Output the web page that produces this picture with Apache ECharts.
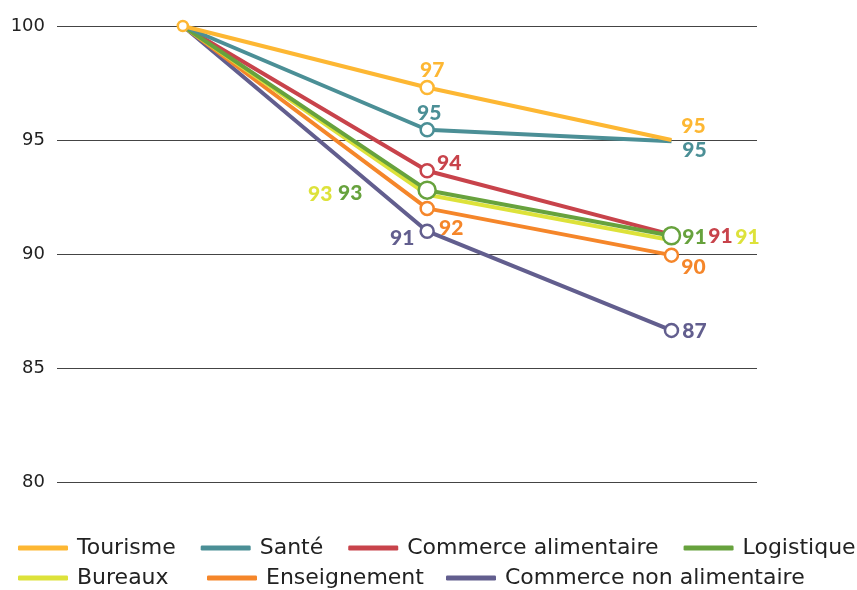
<!DOCTYPE html>
<html>
<head>
<meta charset="utf-8">
<script src="https://cdn.jsdelivr.net/npm/echarts@6/dist/echarts.min.js"></script>
<style>html,body{margin:0;padding:0;background:#fff}#c{width:857px;height:590px}</style>
</head>
<body>
<div id="c"></div>
<script>
// ---- data ----
const xIndex = [0, 1, 2];
const yTicks = [80, 85, 90, 95, 100];
const seriesNames = ['Tourisme', 'Santé', 'Commerce alimentaire', 'Logistique', 'Bureaux', 'Enseignement', 'Commerce non alimentaire'];
const tourisme = [100, 97.3, 95.0];
const sante = [100, 95.45, 94.95];
const commerceAlim = [100, 93.65, 90.85];
const logistique = [100, 92.8, 90.8];
const bureaux = [100, 92.6, 90.6];
const enseignement = [100, 92.0, 89.95];
const commerceNonAlim = [100, 91.0, 86.65];

// ---- styles ----
const colors = ['#FDB733', '#4B8F96', '#C8434B', '#67A23D', '#DDE23A', '#F5862A', '#625E8E'];
const allValues = [tourisme, sante, commerceAlim, logistique, bureaux, enseignement, commerceNonAlim];
// symbol sizes per point (0 = invisible)
const symbolSizes = [
  [10, 13, 0],
  [0, 13, 0],
  [0, 13, 13],
  [0, 17, 17],
  [0, 0, 0],
  [0, 13, 13],
  [0, 13, 13]
];
const labelOffsets = [
  [null, [5, -17], [22, -14]],
  [null, [2, -17], [23, 9]],
  [null, [22, -8], [49, 2]],
  [null, [-77, 3], [23, 1]],
  [null, [-107, 0], [76, -3]],
  [null, [24, 20], [22, 12]],
  [null, [-25, 7], [23, 1]]
];
// stacking rank (higher drawn on top)
const zRank = [7, 6, 4, 5, 3, 2, 1];

const chart = echarts.init(document.getElementById('c'), null, {renderer: 'canvas'});
const series = seriesNames.map(function (name, si) {
  return {
    name: name,
    type: 'line',
    z: 2 + zRank[si],
    color: colors[si],
    lineStyle: {width: 4, color: colors[si]},
    showAllSymbol: true,
    animation: false,
    data: allValues[si].map(function (v, i) {
      const size = symbolSizes[si][i];
      const off = labelOffsets[si][i];
      return {
        value: [xIndex[i], v],
        symbol: 'circle',
        symbolSize: size || 1,
        itemStyle: size ? {color: '#fff', borderColor: colors[si], borderWidth: 2.5}
                        : {color: 'rgba(0,0,0,0)', borderWidth: 0},
        label: off ? {
          show: true, position: 'inside', offset: off,
          formatter: function (p) { return Math.round(p.value[1]); },
          color: colors[si], fontFamily: 'Lato', fontWeight: 900, fontSize: 21,
          align: 'center', verticalAlign: 'middle'
        } : {show: false}
      };
    })
  };
});

const legendText = {fontFamily: 'DejaVu Sans', fontSize: 22, color: '#222', padding: [0, 0, 0, 4]};
const legendBase = {
  icon: 'roundRect', itemWidth: 50, itemHeight: 5, textStyle: legendText,
  orient: 'horizontal', padding: 0, selectedMode: false
};
chart.setOption({
  backgroundColor: '#fff',
  animation: false,
  grid: {left: 57, right: 100, top: 26, bottom: 108},
  xAxis: {
    type: 'value', min: -0.515, max: 2.35,
    axisLine: {show: false}, axisTick: {show: false}, axisLabel: {show: false}, splitLine: {show: false}
  },
  yAxis: {
    type: 'value', min: yTicks[0], max: yTicks[yTicks.length - 1], interval: 5,
    axisLine: {show: false}, axisTick: {show: false},
    axisLabel: {margin: 12, color: '#222', fontFamily: 'DejaVu Sans', fontSize: 18},
    splitLine: {lineStyle: {color: '#444', width: 1}}
  },
  legend: [
    Object.assign({}, legendBase, {left: 18, top: 537, itemGap: 25, data: seriesNames.slice(0, 4)}),
    Object.assign({}, legendBase, {left: 18, top: 567, data: seriesNames.slice(4, 5)}),
    Object.assign({}, legendBase, {left: 207, top: 567, data: seriesNames.slice(5, 6)}),
    Object.assign({}, legendBase, {left: 446, top: 567, data: seriesNames.slice(6, 7)})
  ],
  series: series
});
</script>
</body>
</html>
